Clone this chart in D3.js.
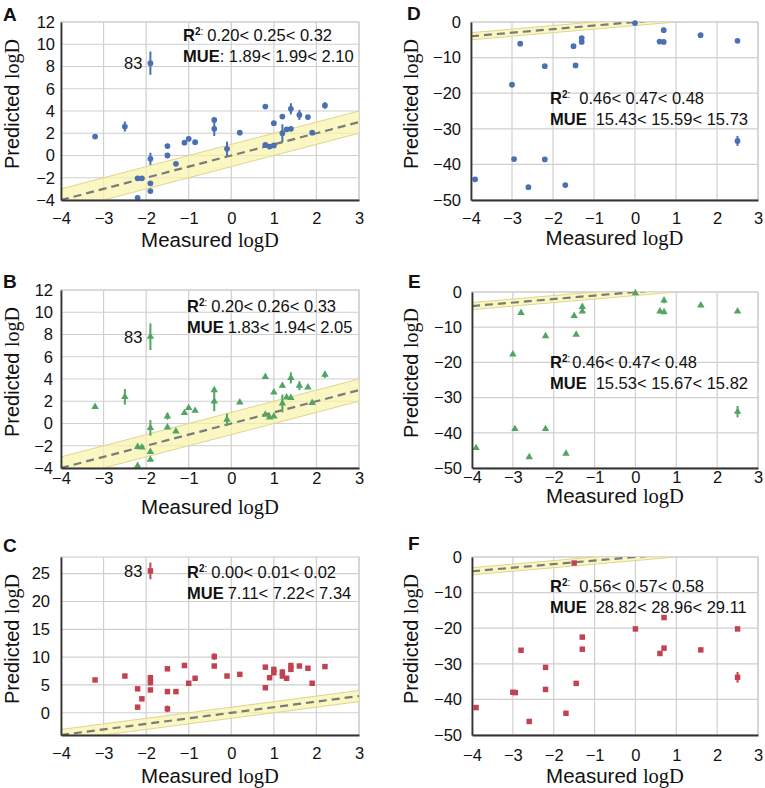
<!DOCTYPE html>
<html>
<head>
<meta charset="utf-8">
<script src="https://cdn.jsdelivr.net/npm/d3@7"></script>
<style>
  body { margin: 0; background: #fff; }
  svg text { font-family: "Liberation Sans", Arial, sans-serif; }
</style>
</head>
<body>
<svg id="chart" width="765" height="788"></svg>
<script>
/* values: [measured, predicted, error] */
const xTicks = [-4, -3, -2, -1, 0, 1, 2, 3];
const yTicksAB = [-4, -2, 0, 2, 4, 6, 8, 10, 12];
const yTicksC = [0, 5, 10, 15, 20, 25];
const yTicksDEF = [-50, -40, -30, -20, -10, 0];

const pointsA = [
  [-3.2, 1.7, 0], [-2.5, 2.6, 0.45], [-1.9, 8.3, 1.05], [-1.9, -0.3, 0.55], [-1.9, -2.5, 0],
  [-1.9, -3.2, 0], [-2.2, -2.05, 0], [-2.1, -2.05, 0], [-2.2, -3.8, 0], [-1.5, 0.85, 0.2],
  [-1.5, 0, 0], [-1.3, -0.75, 0], [-1.1, 1.15, 0], [-1.0, 1.5, 0], [-0.85, 1.2, 0],
  [-0.4, 3.2, 0], [-0.4, 2.4, 0.65], [-0.1, 0.6, 0.65], [0.2, 2.05, 0], [0.8, 4.4, 0.2],
  [0.8, 0.95, 0], [0.9, 0.8, 0], [1.0, 0.9, 0], [1.0, 2.9, 0], [1.2, 3.5, 0.2],
  [1.2, 2.0, 0.8], [1.3, 2.35, 0], [1.4, 4.2, 0.5], [1.4, 2.4, 0], [1.6, 3.65, 0.45],
  [1.8, 3.45, 0], [1.9, 2.05, 0], [2.2, 4.5, 0.3]
];
const pointsB = [
  [-3.2, 1.5, 0], [-2.5, 2.4, 0.7], [-1.9, 7.8, 1.2], [-1.9, -0.4, 0.7], [-1.9, -2.55, 0],
  [-1.9, -3.25, 0], [-2.2, -2.1, 0], [-2.1, -2.15, 0], [-2.2, -3.8, 0], [-1.5, 0.65, 0.3],
  [-1.5, -0.35, 0], [-1.3, -0.7, 0], [-1.1, 0.95, 0], [-1.0, 1.4, 0], [-0.85, 1.15, 0],
  [-0.4, 3.0, 0], [-0.4, 2.0, 0.9], [-0.1, 0.35, 0.55], [0.2, 1.9, 0], [0.8, 4.2, 0.2],
  [0.8, 0.8, 0], [0.9, 0.55, 0], [1.0, 0.65, 0], [1.0, 2.8, 0], [1.2, 3.4, 0.2],
  [1.2, 1.8, 0.8], [1.3, 2.35, 0], [1.4, 4.1, 0.5], [1.4, 2.3, 0], [1.6, 3.4, 0.4],
  [1.8, 3.25, 0], [1.9, 1.85, 0], [2.2, 4.4, 0.3]
];
const pointsC = [
  [-3.2, 5.9, 0], [-2.5, 6.6, 0], [-1.9, 25.5, 1.5], [-1.9, 6.3, 0], [-1.9, 4.1, 0],
  [-1.9, 5.4, 0], [-2.2, 4.3, 0], [-2.1, 2.5, 0], [-2.2, 1.0, 0], [-1.5, 7.9, 0],
  [-1.5, 3.8, 0], [-1.5, 0.7, 0.6], [-1.3, 3.8, 0], [-1.1, 8.5, 0], [-1.0, 5.3, 0],
  [-0.85, 6.2, 0], [-0.4, 10.1, 0.6], [-0.4, 8.4, 0], [-0.1, 6.6, 0], [0.2, 6.9, 0],
  [0.8, 8.2, 0], [0.8, 4.5, 0], [0.9, 6.3, 0], [1.0, 7.2, 0], [1.0, 7.8, 0],
  [1.2, 7.3, 0.5], [1.2, 6.6, 0], [1.3, 6.2, 0], [1.4, 8.5, 0], [1.4, 7.8, 0],
  [1.6, 8.4, 0], [1.8, 8.0, 0], [1.9, 5.3, 0], [2.2, 8.3, 0]
];
const pointsD = [
  [-3.9, -44.2, 0], [-3.0, -17.6, 0], [-2.95, -38.5, 0], [-2.8, -6.1, 0], [-2.6, -46.4, 0],
  [-2.2, -12.4, 0], [-2.2, -38.6, 0], [-1.7, -45.8, 0], [-1.5, -6.8, 0], [-1.45, -12.2, 0],
  [-1.3, -4.5, 0], [-1.3, -5.6, 0], [0, -0.3, 0], [0.6, -5.5, 0], [0.7, -2.3, 0.7],
  [0.7, -5.6, 0], [1.6, -3.7, 0], [2.5, -5.3, 0], [2.5, -33.4, 1.4]
];
const pointsE = [
  [-3.9, -44.3, 0], [-3.0, -17.7, 0], [-2.95, -38.9, 0], [-2.8, -5.9, 0], [-2.6, -46.9, 0],
  [-2.2, -12.5, 0], [-2.2, -38.9, 0], [-1.7, -45.9, 0], [-1.5, -6.8, 0], [-1.45, -12.1, 0],
  [-1.3, -4.2, 0.5], [-1.3, -5.5, 0], [0, -0.3, 0], [0.6, -5.5, 0], [0.7, -2.4, 0.8],
  [0.7, -5.7, 0], [1.6, -3.8, 0], [2.5, -5.5, 0], [2.5, -34.0, 1.6]
];
const pointsF = [
  [-3.9, -42.3, 0], [-3.0, -38.0, 0], [-2.94, -38.1, 0], [-2.8, -26.2, 0], [-2.6, -46.2, 0],
  [-2.2, -31.0, 0], [-2.2, -37.2, 0], [-1.7, -43.9, 0], [-1.5, -1.7, 0], [-1.45, -35.5, 0],
  [-1.3, -22.5, 0], [-1.3, -25.9, 0], [0, -20.2, 0], [0.6, -27.1, 0], [0.7, -17.0, 0],
  [0.7, -25.6, 0], [1.6, -26.1, 0], [2.5, -20.2, 0], [2.5, -33.8, 1.5]
];

const r2Texts = ["0.20< 0.25< 0.32", "0.20< 0.26< 0.33", "0.00< 0.01< 0.02",
                 "0.46< 0.47< 0.48", "0.46< 0.47< 0.48", "0.56< 0.57< 0.58"];
const mueTexts = ["1.89< 1.99< 2.10", "1.83< 1.94< 2.05", "7.11< 7.22< 7.34",
                  "15.43< 15.59< 15.73", "15.53< 15.67< 15.82", "28.82< 28.96< 29.11"];

const colors = { blue: "#4a6fb3", green: "#52a462", red: "#c2424f" };

/* layout of each panel (plot box in page pixels) */
const panels = [
  { letter: "A", pts: pointsA, color: colors.blue, shape: "circle", yDomain: [-4, 12], yTicks: yTicksAB,
    x: 61, y: 22, w: 298, h: 178, xPad: 12, yPad: 6, titleDy: 47, ytX: -42,
    lx: 3, ly: 21, ax: 183, ay: 41, mueColon: true, r2Gap: 4, mueGap: 4, label83: true },
  { letter: "B", pts: pointsB, color: colors.green, shape: "triangle", yDomain: [-4, 12], yTicks: yTicksAB,
    x: 61, y: 290, w: 298, h: 178, xPad: 4, yPad: 8, titleDy: 46, ytX: -42,
    lx: 3, ly: 288, ax: 187, ay: 312, mueColon: false, r2Gap: 4, mueGap: 4, label83: true },
  { letter: "C", pts: pointsC, color: colors.red, shape: "square", yDomain: [-4, 28], yTicks: yTicksC,
    x: 61, y: 557, w: 298, h: 178, xPad: 12, yPad: 11, titleDy: 48, ytX: -42,
    lx: 3, ly: 552, ax: 187, ay: 578, mueColon: false, r2Gap: 4, mueGap: 4, label83: true },
  { letter: "D", pts: pointsD, color: colors.blue, shape: "circle", yDomain: [-50, 0], yTicks: yTicksDEF,
    x: 471, y: 22, w: 287, h: 178, xPad: 12, yPad: 10, titleDy: 45, ytX: -53,
    lx: 407, ly: 20, ax: 550, ay: 104, mueColon: false, r2Gap: 9, mueGap: 9, label83: false },
  { letter: "E", pts: pointsE, color: colors.green, shape: "triangle", yDomain: [-50, 0], yTicks: yTicksDEF,
    x: 472, y: 292, w: 286, h: 176, xPad: 3, yPad: 10, titleDy: 35, ytX: -54,
    lx: 408, ly: 288, ax: 550, ay: 368, mueColon: false, r2Gap: 2, mueGap: 9, label83: false },
  { letter: "F", pts: pointsF, color: colors.red, shape: "square", yDomain: [-50, 0], yTicks: yTicksDEF,
    x: 472, y: 557, w: 286, h: 178, xPad: 14, yPad: 10, titleDy: 48, ytX: -54,
    lx: 408, ly: 550, ax: 550, ay: 592, mueColon: false, r2Gap: 9, mueGap: 9, label83: false }
];

const svg = d3.select("#chart");
svg.append("rect").attr("width", 765).attr("height", 788).attr("fill", "#fff");

panels.forEach((p, i) => drawPanel(p, i));

function drawPanel(p, i) {
  const x = d3.scaleLinear().domain([-4, 3]).range([0, p.w]);
  const y = d3.scaleLinear().domain(p.yDomain).range([p.h, 0]);
  const g = svg.append("g").attr("transform", "translate(" + p.x + "," + p.y + ")");

  const clipId = "clip" + p.letter;
  svg.append("clipPath").attr("id", clipId)
    .append("rect").attr("width", p.w).attr("height", p.h);

  /*grid*/
  g.append("rect").attr("width", p.w).attr("height", p.h)
    .attr("fill", "none").attr("stroke", "#cfcfcf").attr("stroke-width", 1.2);
  g.selectAll(".vgrid").data(xTicks).enter().append("line")
    .attr("x1", d => x(d)).attr("x2", d => x(d))
    .attr("y1", 0).attr("y2", p.h)
    .attr("stroke", "#cfcfcf").attr("stroke-width", 1.2);
  g.selectAll(".hgrid").data(p.yTicks).enter().append("line")
    .attr("x1", 0).attr("x2", p.w)
    .attr("y1", d => y(d)).attr("y2", d => y(d))
    .attr("stroke", "#cfcfcf").attr("stroke-width", 1.2);

  /*yellow band y = x +/- 1 and the identity line*/
  const inner = g.append("g").attr("clip-path", "url(#" + clipId + ")");
  const bandX = d3.range(-4, 3.01, 1);
  const area = d3.area().x(d => x(d)).y0(d => y(d - 1)).y1(d => y(d + 1));
  inner.append("path").datum(bandX).attr("d", area)
    .attr("fill", "#f8f3aa").attr("fill-opacity", 0.7);
  [-1, 1].forEach(off => {
    inner.append("line")
      .attr("x1", x(-4)).attr("y1", y(-4 + off))
      .attr("x2", x(3)).attr("y2", y(3 + off))
      .attr("stroke", "#ddd68e").attr("stroke-width", 1);
  });
  inner.append("line")
    .attr("x1", x(-4)).attr("y1", y(-4))
    .attr("x2", x(3)).attr("y2", y(3))
    .attr("stroke", "#7a7a7a").attr("stroke-width", 2.2)
    .attr("stroke-dasharray", "8,5");

  /*error bars*/
  g.selectAll(".err").data(p.pts.filter(d => d[2] > 0)).enter().append("line")
    .attr("x1", d => x(d[0])).attr("x2", d => x(d[0]))
    .attr("y1", d => y(d[1] - d[2])).attr("y2", d => y(d[1] + d[2]))
    .attr("stroke", p.color).attr("stroke-width", 2);

  /*markers*/
  let sym;
  if (p.shape === "circle") sym = d3.symbol().type(d3.symbolCircle).size(26);
  else if (p.shape === "triangle") sym = d3.symbol().type(d3.symbolTriangle).size(24);
  else sym = d3.symbol().type(d3.symbolSquare).size(30);
  g.selectAll(".pt").data(p.pts).enter().append("path")
    .attr("d", sym)
    .attr("transform", d => "translate(" + x(d[0]) + "," + y(d[1]) + ")")
    .attr("fill", p.color);

  /*axes*/
  const xAxis = g.append("g").attr("transform", "translate(0," + p.h + ")")
    .call(d3.axisBottom(x).tickValues(xTicks).tickFormat(d3.format("d")).tickSize(0).tickPadding(p.xPad));
  xAxis.select(".domain").attr("stroke", "#333").attr("stroke-width", 1.8);
  xAxis.selectAll("text").attr("font-size", 16.5).attr("fill", "#111")
    .style("font-family", "'Liberation Sans', Arial, sans-serif");

  const yAxis = g.append("g")
    .call(d3.axisLeft(y).tickValues(p.yTicks).tickFormat(d3.format("d")).tickSize(0).tickPadding(p.yPad));
  yAxis.select(".domain").attr("stroke", "#333").attr("stroke-width", 1.8);
  yAxis.selectAll("text").attr("font-size", 16.5).attr("fill", "#111")
    .style("font-family", "'Liberation Sans', Arial, sans-serif");

  /*axis titles*/
  const xt = g.append("text")
    .attr("x", p.w / 2).attr("y", p.h + p.titleDy)
    .attr("text-anchor", "middle").attr("font-size", 20.5).attr("fill", "#111");
  xt.append("tspan").text("Measured ");
  xt.append("tspan").style("font-family", "'Liberation Serif', serif").text("logD");

  const yt = g.append("text")
    .attr("transform", "translate(" + p.ytX + "," + (p.h / 2 - 7) + ") rotate(-90)")
    .attr("text-anchor", "middle").attr("font-size", 20).attr("fill", "#111");
  yt.append("tspan").text("Predicted ");
  yt.append("tspan").style("font-family", "'Liberation Serif', serif").text("logD");

  /*panel letter*/
  svg.append("text").attr("x", p.lx).attr("y", p.ly)
    .attr("font-size", 19).attr("font-weight", "bold").attr("fill", "#111")
    .text(p.letter);

  /*R2 and MUE annotation*/
  const r2 = svg.append("text").attr("x", p.ax).attr("y", p.ay)
    .attr("font-size", 16.5).attr("fill", "#111");
  r2.append("tspan").attr("font-weight", "bold").text("R");
  r2.append("tspan").attr("font-size", 10).attr("font-weight", "bold").attr("dy", -6).text("2");
  r2.append("tspan").attr("font-size", 10).text(":");
  r2.append("tspan").attr("dy", 6).attr("dx", p.r2Gap).text(r2Texts[i]);

  const mue = svg.append("text").attr("x", p.ax).attr("y", p.ay + 21)
    .attr("font-size", 16.5).attr("fill", "#111");
  mue.append("tspan").attr("font-weight", "bold").text("MUE");
  mue.append("tspan").attr("dx", p.mueColon ? 0 : p.mueGap).text((p.mueColon ? ": " : "") + mueTexts[i]);

  /*outlier label*/
  if (p.label83) {
    const o = p.pts[2];
    g.append("text").attr("x", x(o[0]) - 8).attr("y", y(o[1]) + 6)
      .attr("text-anchor", "end").attr("font-size", 16.5).attr("fill", "#111")
      .text("83");
  }
}
</script>
</body>
</html>
